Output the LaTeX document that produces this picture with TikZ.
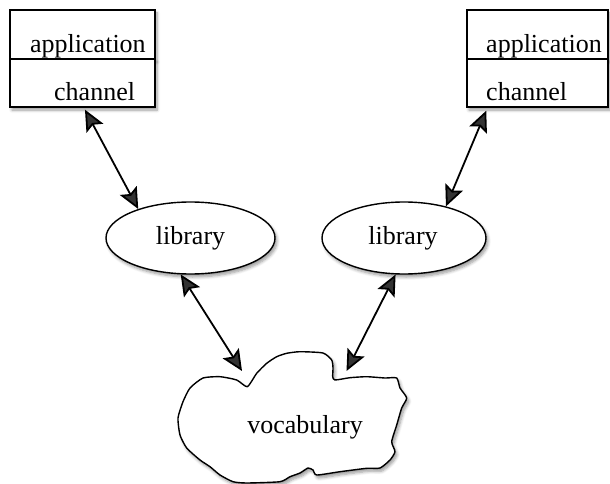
\documentclass[tikz,border=0pt]{standalone}
\usepackage{fontspec}
\setmainfont{Liberation Serif}
\usetikzlibrary{arrows.meta,calc,shapes.geometric,shadows.blur}
\tikzset{>={Stealth[length=21pt,width=19pt,inset=4pt]}}
\begin{document}
\begin{tikzpicture}[x=1pt,y=-1pt,
  shade/.style={blur shadow={shadow xshift=2pt,shadow yshift=-3pt,shadow blur steps=6,shadow opacity=40,shadow blur radius=3pt}},
  cell/.style={draw,line width=1.4pt,fill=white,rectangle,inner sep=0pt,shade},
  lib/.style={draw,line width=1.4pt,fill=white,ellipse,inner sep=0pt,minimum width=169pt,minimum height=72pt,shade},
  txt/.style={font=\fontsize{26}{28}\selectfont,inner sep=0pt},
  link/.style={line width=1.8pt,<->}]
\useasboundingbox (0,0) rectangle (610,484);
% left stack
\node[cell,minimum width=145pt,minimum height=49pt] (lapp) at (82.5,34.5) {};
\node[cell,minimum width=145pt,minimum height=48pt] (lch) at (82.5,83) {};
\node[txt,anchor=base west] (lappt) at (30,53) {application};
\node[txt,anchor=base west] (lcht) at (54,101) {channel};
% right stack
\node[cell,minimum width=141pt,minimum height=49pt] (rapp) at (537.5,34.5) {};
\node[cell,minimum width=141pt,minimum height=48pt] (rch) at (537.5,83) {};
\node[txt,anchor=base west] (rappt) at (486,53) {application};
\node[txt,anchor=base west] (rcht) at (486,101) {channel};
% libraries
\node[lib] (llib) at (190.5,238) {};
\node[txt] (llibt) at (190.5,238) {library};
\node[lib,minimum width=164pt] (rlib) at (404,238) {};
\node[txt] (rlibt) at (403,238) {library};
% cloud
\draw[line width=1.4pt,fill=white,shade] plot[smooth cycle,tension=0.35] coordinates {
 (247.3,386.7) (256.7,373.3) (266.7,363.3) (276.7,356.7) (286.7,353.3) (300,351.7) (323,353)
 (331.7,360) (333,368) (332.7,376.7) (335,380) (350,377.7) (366.7,376.7) (385,378) (396.7,378)
 (400,388) (406.7,398) (401.7,408) (396.7,425) (391.7,441.7) (395,451.7) (390,460) (380,468)
 (366.7,468.3) (340,471.7) (316.7,475) (313,470) (308,468) (300,473) (290,476.7) (280,481.7)
 (246.7,483) (233,481.7) (220,475) (210,466.7) (200,460) (186.7,448) (180,435) (178,418)
 (183,401.7) (190,388) (203,378) (220,376.7) (236.7,380)};
\node[txt,anchor=base] (voc) at (305,433) {vocabulary};
\coordinate (vl) at (242,371);
\coordinate (vr) at (346.5,371);
% connectors
\draw[link] ($(lch.south west)!0.517!(lch.south east)+(0,2)$) -- (llib.151);
\draw[link] ($(rch.south west)!0.14!(rch.south east)+(0,3)$) -- (rlib.37);
\draw[link] (llib.255) -- (vl);
\draw[link] (rlib.257) -- (vr);
\end{tikzpicture}
\end{document}
